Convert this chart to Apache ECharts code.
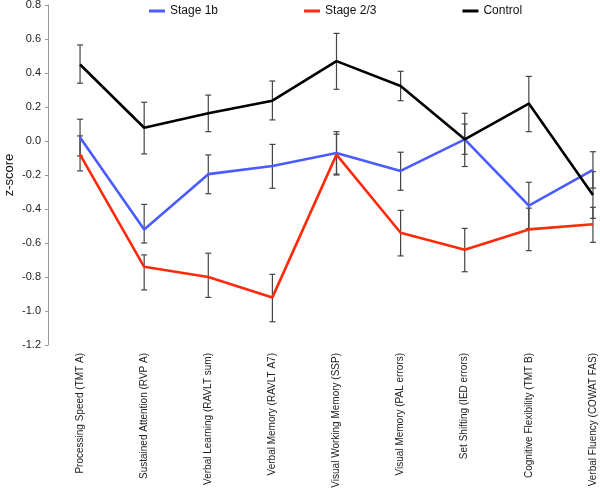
<!DOCTYPE html>
<html>
<head>
<meta charset="utf-8">
<script src="https://cdn.jsdelivr.net/npm/echarts@6/dist/echarts.min.js"></script>
<style>html,body{margin:0;padding:0;background:#fff}#c{width:600px;height:493px}</style>
</head>
<body>
<div id="c"></div>
<script>
var categories = ["Processing Speed (TMT A)", "Sustained Attention (RVP A)", "Verbal Learning (RAVLT sum)", "Verbal Memory (RAVLT A7)", "Visual Working Memory (SSP)", "Visual Memory (PAL errors)", "Set Shifting (IED errors)", "Cognitive Flexibility (TMT B)", "Verbal Fluency (COWAT FAS)"];
var seriesNames = ["Stage 1b", "Stage 2/3", "Control"];
var stage1b     = [0.02, -0.52, -0.195, -0.147, -0.07, -0.176, 0.01, -0.38, -0.17];
var stage1bHigh = [0.128, -0.373, -0.082, -0.02, 0.055, -0.066, 0.10, -0.243, -0.063];
var stage1bLow  = [-0.088, -0.60, -0.31, -0.278, -0.195, -0.29, -0.078, -0.515, -0.277];
var stage23     = [-0.08, -0.74, -0.80, -0.92, -0.08, -0.54, -0.64, -0.52, -0.49];
var stage23High = [0.03, -0.67, -0.66, -0.784, 0.04, -0.408, -0.514, -0.395, -0.39];
var stage23Low  = [-0.176, -0.876, -0.92, -1.063, -0.2, -0.676, -0.769, -0.645, -0.596];
var control     = [0.45, 0.078, 0.163, 0.237, 0.47, 0.324, 0.01, 0.22, -0.318];
var controlHigh = [0.565, 0.228, 0.27, 0.353, 0.633, 0.41, 0.163, 0.38, -0.18];
var controlLow  = [0.34, -0.076, 0.055, 0.124, 0.304, 0.237, -0.15, 0.055, -0.455];
var yTicks = {min: -1.2, max: 0.8, interval: 0.2};

var colors = ["#4a5cff", "#ff2a0a", "#000000"];

function errData(hi, lo) {
  return categories.map(function (c, i) { return [i, lo[i], hi[i]]; });
}
function errRender(params, api) {
  var x = api.value(0);
  var pLo = api.coord([x, api.value(1)]);
  var pHi = api.coord([x, api.value(2)]);
  var hw = 3;
  var st = {stroke: '#444', lineWidth: 1.2};
  return {
    type: 'group',
    children: [
      {type: 'line', shape: {x1: pLo[0], y1: pLo[1], x2: pHi[0], y2: pHi[1]}, style: st},
      {type: 'line', shape: {x1: pLo[0] - hw, y1: pLo[1], x2: pLo[0] + hw, y2: pLo[1]}, style: st},
      {type: 'line', shape: {x1: pHi[0] - hw, y1: pHi[1], x2: pHi[0] + hw, y2: pHi[1]}, style: st}
    ]
  };
}

var chart = echarts.init(document.getElementById('c'));
var lineData = [stage1b, stage23, control];
var errs = [[stage1bHigh, stage1bLow], [stage23High, stage23Low], [controlHigh, controlLow]];
var series = [];
errs.forEach(function (e, k) {
  series.push({type: 'custom', name: 'err' + k, renderItem: errRender, data: errData(e[0], e[1]), z: 1, silent: true, clip: false});
});
lineData.forEach(function (d, k) {
  series.push({type: 'line', name: seriesNames[k], data: d, showSymbol: false, symbol: 'none',
    lineStyle: {color: colors[k], width: 2.6}, itemStyle: {color: colors[k]}, z: 3});
});

chart.setOption({
  animation: false,
  textStyle: {fontFamily: 'Liberation Sans, Arial, sans-serif'},
  legend: {
    data: seriesNames.map(function (n, k) { return {name: n, icon: 'rect', itemStyle: {color: colors[k]}}; }),
    left: 149, top: 5, padding: 0, itemWidth: 16, itemHeight: 3, itemGap: 86,
    textStyle: {fontSize: 12, color: '#111', fontFamily: 'Liberation Sans, Arial, sans-serif'}
  },
  grid: {left: 48, right: -25, top: 5, bottom: 148, containLabel: false, outerBoundsMode: 'none'},
  xAxis: {
    type: 'category', data: categories, boundaryGap: true,
    axisLine: {show: false}, axisTick: {show: false},
    axisLabel: {rotate: 90, fontSize: 10, color: '#222', margin: 8, interval: 0,
      fontFamily: 'Liberation Sans, Arial, sans-serif'},
    splitLine: {show: false}
  },
  yAxis: {
    type: 'value', min: yTicks.min, max: yTicks.max, interval: yTicks.interval,
    name: 'z-score', nameLocation: 'middle', nameGap: 32, nameRotate: 90, nameMoveOverlap: false,
    nameTextStyle: {fontSize: 13, color: '#111', fontFamily: 'Liberation Sans, Arial, sans-serif'},
    axisLine: {show: true, lineStyle: {color: '#999', width: 1}},
    axisTick: {show: true, length: 3, lineStyle: {color: '#999'}},
    axisLabel: {fontSize: 11, color: '#222', margin: 7,
      formatter: function (v) { return v.toFixed(1); },
      fontFamily: 'Liberation Sans, Arial, sans-serif'},
    splitLine: {show: false}
  },
  series: series
});
</script>
</body>
</html>
